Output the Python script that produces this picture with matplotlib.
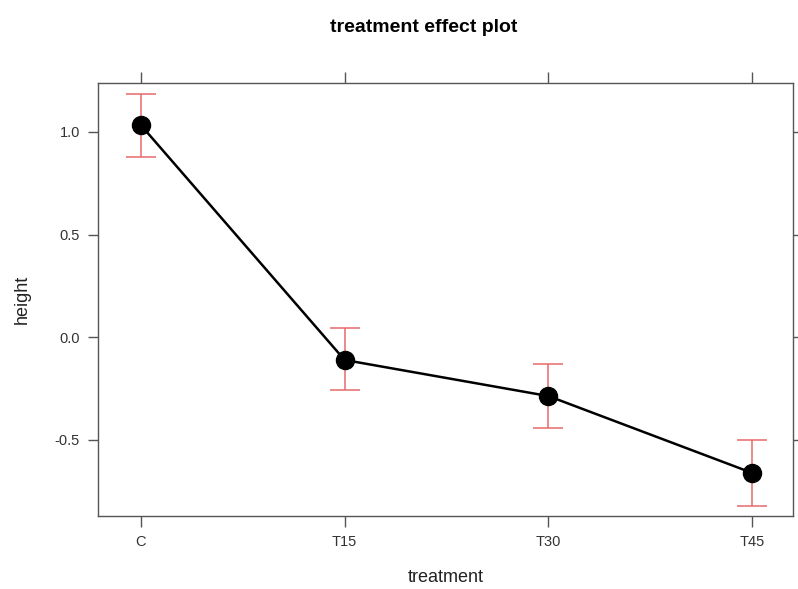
import matplotlib
matplotlib.use("Agg")
import matplotlib.pyplot as plt

plt.rcParams["font.family"] = ["Liberation Sans", "DejaVu Sans"]

categories = ["C", "T15", "T30", "T45"]
fit = [1.034, -0.112, -0.288, -0.663]
upper = [1.185, 0.044, -0.132, -0.502]
lower = [0.878, -0.259, -0.444, -0.824]
yticks = [-0.5, 0.0, 0.5, 1.0]
ytick_labels = ["-0.5", "0.0", "0.5", "1.0"]

W, H = 798, 589
fig = plt.figure(figsize=(W / 100, H / 100), dpi=100)
left, right, top, bottom = 98, 793, 83, 516
ax = fig.add_axes([left / W, 1 - bottom / H, (right - left) / W, (bottom - top) / H])

x = list(range(len(categories)))
err_lo = [f - l for f, l in zip(fit, lower)]
err_hi = [u - f for f, u in zip(fit, upper)]
ax.errorbar(x, fit, yerr=[err_lo, err_hi], fmt="none", ecolor="#E86A6A",
            elinewidth=1.1, capsize=11, capthick=1.1, zorder=2)
ax.plot(x, fit, color="black", linewidth=1.8, marker="o", markersize=13, zorder=3)

ax.set_xlim(-0.21, 3.2)
ax.set_ylim(-0.873, 1.239)
ax.set_xticks(x)
ax.set_xticklabels(categories)
ax.set_yticks(yticks)
ax.set_yticklabels(ytick_labels)

for s in ax.spines.values():
    s.set_color("#555555")
    s.set_linewidth(1.0)
ax.tick_params(axis="both", direction="out", length=7, width=1.0, color="#555555",
               labelsize=10.5, labelcolor="#333333", pad=6,
               top=True, right=True, labeltop=False, labelright=False)
ax.tick_params(axis="x", length=8)

ax.set_xlabel("treatment", fontsize=13, color="#222222", labelpad=14)
ax.set_ylabel("height", fontsize=13, color="#222222", labelpad=17)
fig.text(424 / W, 1 - 28 / H, "treatment effect plot", ha="center", va="center",
         fontsize=14, fontweight="bold", color="black")

fig.savefig("out.png", dpi=100, facecolor="white")
